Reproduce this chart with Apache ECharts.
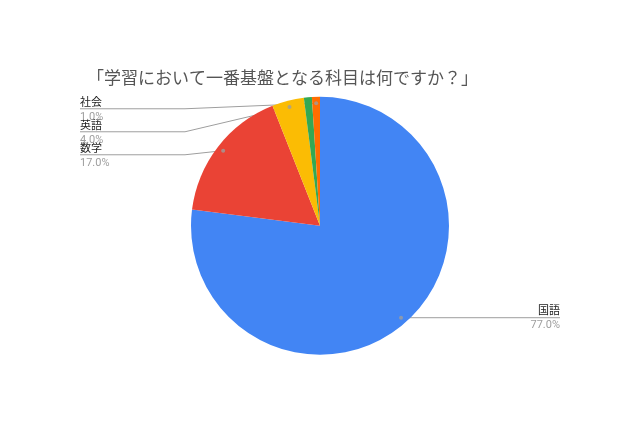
<!DOCTYPE html>
<html><head><meta charset="utf-8">
<script src="https://cdn.jsdelivr.net/npm/echarts@6/dist/echarts.min.js"></script>
<style>html,body{margin:0;padding:0;background:#fff}#c{width:640px;height:426px}</style>
</head><body><div id="c"></div>
<script>
const titleText = '「学習において一番基盤となる科目は何ですか？」';
const categories = ['国語', '数学', '英語', '理科', '社会'];
const values = [77, 17, 4, 1, 1];
const showLabel = [true, true, true, false, true];
const colors = ['#4285f4', '#ea4335', '#fbbc04', '#34a853', '#ff6d01'];

const chart = echarts.init(document.getElementById('c'));
const W = chart.getWidth(), H = chart.getHeight();
const R = 129;
const CX = W * 0.5, CY = H * 0.53;
const total = values.reduce((a, b) => a + b, 0);

// compute label layout from data
const info = [];
let cum = 0;
values.forEach((v, i) => {
  const midPct = (cum + v / 2) / total * 100;
  cum += v;
  const a = midPct / 100 * 2 * Math.PI;
  const dx = CX + 0.95 * R * Math.sin(a);
  const dy = CY - 0.95 * R * Math.cos(a);
  info.push({ midPct, dx, dy, side: dx < CX ? 'left' : 'right' });
});
['left', 'right'].forEach(side => {
  const items = info.map((o, i) => ({ o, i })).filter(x => x.o.side === side && showLabel[x.i])
    .sort((a, b) => a.o.dy - b.o.dy);
  let prev = -Infinity;
  items.forEach(({ o }) => {
    o.ly = Math.max(o.dy, prev + 23, CY - R + 12);
    prev = o.ly;
  });
});

chart.setOption({
  animation: false,
  title: {
    text: titleText, left: 82, top: 64,
    textStyle: { fontSize: 17, fontWeight: 'normal', color: '#555', fontFamily: '"Noto Sans CJK JP", sans-serif' }
  },
  polar: { center: ['50%', '53%'], radius: R },
  angleAxis: { type: 'value', min: 0, max: 100, startAngle: 90, clockwise: true, show: false,
    axisLine: { show: false }, splitLine: { show: false }, axisLabel: { show: false }, axisTick: { show: false } },
  radiusAxis: { type: 'value', min: 0, max: 1, show: false,
    axisLine: { show: false }, splitLine: { show: false }, axisLabel: { show: false }, axisTick: { show: false } },
  series: [{
    type: 'pie',
    center: ['50%', '53%'],
    radius: R,
    startAngle: 90,
    clockwise: true,
    avoidLabelOverlap: false,
    data: categories.map((c, i) => ({
      name: c, value: values[i],
      itemStyle: { color: colors[i] },
      label: { show: showLabel[i] },
      labelLine: { show: showLabel[i] }
    })),
    label: {
      position: 'outside',
      formatter: p => '{n|' + p.name + '}\n{p|' + p.percent.toFixed(1) + '%}',
      rich: {
        n: { fontSize: 11, color: '#222', lineHeight: 14, fontFamily: 'Roboto, "Noto Sans CJK JP", sans-serif' },
        p: { fontSize: 11, color: '#9e9e9e', lineHeight: 14, fontFamily: 'Roboto, "Noto Sans CJK JP", sans-serif' }
      }
    },
    labelLine: { show: true, lineStyle: { color: '#9e9e9e', width: 1 } },
    labelLayout: function (params) {
      const o = info[params.dataIndex];
      if (!o || o.ly === undefined) return {};
      const left = o.side === 'left';
      const ex = left ? CX - 240 : CX + 240;
      const bx = left ? CX - R - 6 : CX + R + 6;
      return {
        x: ex, y: o.ly + 1,
        align: left ? 'left' : 'right',
        verticalAlign: 'middle',
        labelLinePoints: [[o.dx, o.dy], [bx, o.ly], [ex, o.ly]]
      };
    }
  }, {
    type: 'scatter',
    coordinateSystem: 'polar',
    symbolSize: 4,
    z: 5,
    itemStyle: { color: '#9e9e9e' },
    silent: true,
    data: info.map((o, i) => showLabel[i] ? [0.95, o.midPct] : null).filter(d => d)
  }]
});
</script></body></html>
